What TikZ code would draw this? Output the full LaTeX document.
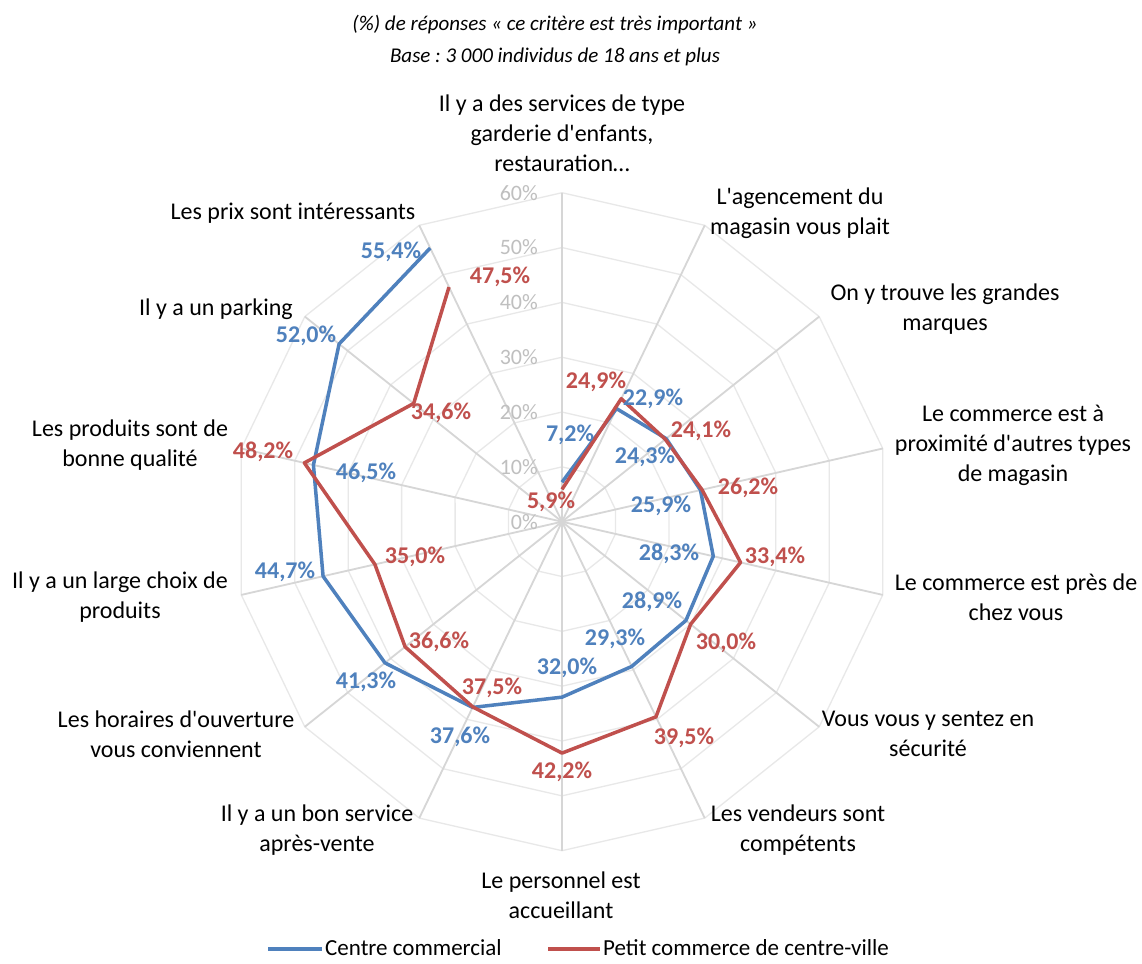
\documentclass[tikz,border=0pt]{standalone}
\usepackage{fontspec}
\setmainfont{Carlito}[Ligatures=TeXOff]
\frenchspacing
\definecolor{serA}{HTML}{4F81BD}
\definecolor{serB}{HTML}{C0504D}
\definecolor{axisgray}{HTML}{D6D6D6}
\definecolor{ringgray}{HTML}{E8E8E8}
\definecolor{tickgray}{HTML}{BFBFBF}
\tikzset{
  axisline/.style={draw=axisgray, line width=1.8pt},
  ringline/.style={draw=ringgray, line width=1.3pt},
  seriesA/.style={draw=serA, line width=3.5pt, line join=round},
  seriesB/.style={draw=serB, line width=3.5pt, line join=round},
  catlabel/.style={align=center, inner sep=0pt, font=\fontsize{24}{30}\selectfont},
  vallabelA/.style={inner sep=0pt, text=serA, font=\fontsize{24}{28}\selectfont\bfseries},
  vallabelB/.style={inner sep=0pt, text=serB, font=\fontsize{24}{28}\selectfont\bfseries},
  ticklabel/.style={anchor=east, inner sep=0pt, text=tickgray, font=\fontsize{22}{26}\selectfont},
  titletext/.style={inner sep=0pt, font=\fontsize{21}{25}\selectfont\itshape},
  legendtext/.style={anchor=west, inner sep=0pt, font=\fontsize{23}{27}\selectfont},
}
\begin{document}
\begin{tikzpicture}[x=1pt,y=-1pt]
\useasboundingbox[fill=white] (0,0) rectangle (1142,963);
\coordinate (C) at (562,521.7);
% rings
\foreach \k in {1,...,6}{
  \draw[ringline] ({562},{521.7-\k*54.83})
    \foreach \i in {1,...,13}{ -- ({562+\k*54.83*sin(\i*360/14)},{521.7-\k*54.83*cos(\i*360/14)}) } -- cycle;
}
% axes
\foreach \i in {0,...,13}{
  \coordinate (ax\i) at ({562+329*sin(\i*360/14)},{521.7-329*cos(\i*360/14)});
  \draw[axisline] (C) -- (ax\i);
}
% tick labels
\foreach \k in {0,...,6}{
  \pgfmathtruncatemacro{\pc}{\k*10}
  \node[ticklabel] (tick\k) at (538,{521.7-\k*54.83}) {\pc\%};
}
% data
\foreach \i/\v in {0/7.2,1/22.9,2/24.3,3/25.9,4/28.3,5/28.9,6/29.3,7/32.0,8/37.6,9/41.3,10/44.7,11/46.5,12/52.0,13/55.4}{
  \coordinate (b\i) at ({562+5.483*\v*sin(\i*360/14)},{521.7-5.483*\v*cos(\i*360/14)});
}
\foreach \i/\v in {0/5.9,1/24.9,2/24.1,3/26.2,4/33.4,5/30.0,6/39.5,7/42.2,8/37.5,9/36.6,10/35.0,11/48.2,12/34.6,13/47.5}{
  \coordinate (r\i) at ({562+5.483*\v*sin(\i*360/14)},{521.7-5.483*\v*cos(\i*360/14)});
}
\draw[seriesA] (b0) \foreach \i in {1,...,13}{ -- (b\i) };
\draw[seriesB] (r0) \foreach \i in {1,...,13}{ -- (r\i) };
% value labels A
\node[vallabelA] (va0) at (570,435) {7,2\%};
\node[vallabelA] (va1) at (653,399) {22,9\%};
\node[vallabelA] (va2) at (645,457) {24,3\%};
\node[vallabelA] (va3) at (661,506) {25,9\%};
\node[vallabelA] (va4) at (669,554) {28,3\%};
\node[vallabelA] (va5) at (652,602) {28,9\%};
\node[vallabelA] (va6) at (615,639) {29,3\%};
\node[vallabelA] (va7) at (567,668) {32,0\%};
\node[vallabelA] (va8) at (460,737) {37,6\%};
\node[vallabelA] (va9) at (366,682) {41,3\%};
\node[vallabelA] (va10) at (285,572) {44,7\%};
\node[vallabelA] (va11) at (366,473) {46,5\%};
\node[vallabelA] (va12) at (306,336) {52,0\%};
\node[vallabelA] (va13) at (391,252) {55,4\%};
% value labels B
\node[vallabelB] (vb0) at (551,502) {5,9\%};
\node[vallabelB] (vb1) at (596,382) {24,9\%};
\node[vallabelB] (vb2) at (701,431) {24,1\%};
\node[vallabelB] (vb3) at (748,488) {26,2\%};
\node[vallabelB] (vb4) at (775,557) {33,4\%};
\node[vallabelB] (vb5) at (726,643) {30,0\%};
\node[vallabelB] (vb6) at (684,738) {39,5\%};
\node[vallabelB] (vb7) at (562,772) {42,2\%};
\node[vallabelB] (vb8) at (492,688) {37,5\%};
\node[vallabelB] (vb9) at (439,642) {36,6\%};
\node[vallabelB] (vb10) at (415,557) {35,0\%};
\node[vallabelB] (vb11) at (263,452) {48,2\%};
\node[vallabelB] (vb12) at (441,413) {34,6\%};
\node[vallabelB] (vb13) at (500,277) {47,5\%};
% category labels
\node[catlabel] (c0) at (562,133) {Il y a des services de type\\garderie d'enfants,\\restauration…};
\node[catlabel] (c1) at (800,213) {L'agencement du\\magasin vous plait};
\node[catlabel] (c2) at (945,309) {On y trouve les grandes\\marques};
\node[catlabel] (c3) at (1013,445) {Le commerce est à\\proximité d'autres types\\de magasin};
\node[catlabel] (c4) at (1016,597) {Le commerce est près de\\chez vous};
\node[catlabel] (c5) at (928,734) {Vous vous y sentez en\\sécurité};
\node[catlabel] (c6) at (798,830) {Les vendeurs sont\\compétents};
\node[catlabel] (c7) at (561,895) {Le personnel est\\accueillant};
\node[catlabel] (c8) at (317,830) {Il y a un bon service\\après-vente};
\node[catlabel] (c9) at (176,734) {Les horaires d'ouverture\\vous conviennent};
\node[catlabel] (c10) at (120,597) {Il y a un large choix de\\produits};
\node[catlabel] (c11) at (130,445) {Les produits sont de\\bonne qualité};
\node[catlabel] (c12) at (216,309) {Il y a un parking};
\node[catlabel] (c13) at (293,213) {Les prix sont intéressants};
% title
\node[titletext] (t1) at (555,25) {(\%) de réponses «~ce critère est très important~»};
\node[titletext] (t2) at (555,57) {Base : 3 000 individus de 18 ans et plus};
% legend
\coordinate (lA1) at (268,949); \coordinate (lA2) at (322,949);
\coordinate (lB1) at (548,949); \coordinate (lB2) at (600,949);
\draw[seriesA] (lA1) -- (lA2);
\draw[seriesB] (lB1) -- (lB2);
\node[legendtext] (legA) at (325,948) {Centre commercial};
\node[legendtext] (legB) at (603,948) {Petit commerce de centre-ville};
\end{tikzpicture}
\end{document}
